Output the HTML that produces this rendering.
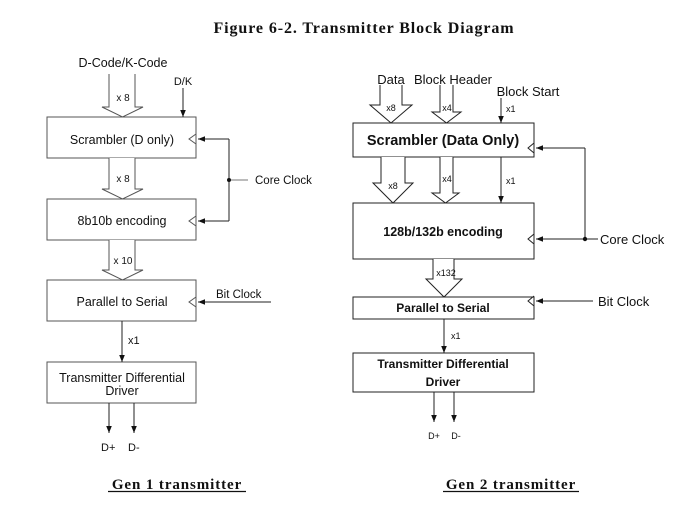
<!DOCTYPE html>
<html><head><meta charset="utf-8"><style>
html,body{margin:0;padding:0;background:#fff;}
svg{display:block;}
.a{font-family:"Liberation Sans",Arial,sans-serif;fill:#111;}
.s{font-family:"Liberation Serif","DejaVu Serif",serif;font-weight:bold;fill:#111;}
.b{font-family:"Liberation Sans",Arial,sans-serif;font-weight:bold;fill:#111;}
</style></head><body>
<svg width="700" height="518" viewBox="0 0 700 518" xmlns="http://www.w3.org/2000/svg">
<defs>
<marker id="ah" viewBox="0 0 10 10" refX="10" refY="5" markerWidth="7" markerHeight="7" orient="auto" markerUnits="userSpaceOnUse"><path d="M0,1 L10,5 L0,9 z" fill="#111"/></marker>
</defs>
<text x="364" y="33" class="s" font-size="16" text-anchor="middle" letter-spacing="0.9">Figure 6-2.  Transmitter Block Diagram</text>

<g stroke="#555" stroke-width="1" fill="#fff">
<path d="M109,74 V107 H102 L122.5,117 L143,107 H135 V74"/>
<rect x="47" y="117" width="149" height="41"/>
<path d="M109,158 V189 H102 L122.5,199 L143,189 H135 V158"/>
<rect x="47" y="199" width="149" height="41"/>
<path d="M109,240 V270 H102 L122.5,280 L143,270 H135 V240"/>
<rect x="47" y="280" width="149" height="41"/>
<rect x="47" y="362" width="149" height="41"/>
<path d="M196,134 L189,139 L196,144" fill="none"/>
<path d="M196,216 L189,221 L196,226" fill="none"/>
<path d="M196,297 L189,302 L196,307" fill="none"/>
</g>
<g stroke="#222" stroke-width="1" fill="none">
<line x1="183" y1="88" x2="183" y2="117" marker-end="url(#ah)"/>
<line x1="229" y1="139" x2="198" y2="139" marker-end="url(#ah)"/>
<line x1="229" y1="221" x2="198" y2="221" marker-end="url(#ah)"/>
<line x1="229" y1="139" x2="229" y2="221"/>
<line x1="229" y1="180" x2="248" y2="180" stroke="#777"/>
<line x1="271" y1="302" x2="198" y2="302" marker-end="url(#ah)"/>
<line x1="122" y1="321" x2="122" y2="362" marker-end="url(#ah)"/>
<line x1="109" y1="403" x2="109" y2="433" marker-end="url(#ah)"/>
<line x1="134" y1="403" x2="134" y2="433" marker-end="url(#ah)"/>
</g>
<circle cx="229" cy="180" r="2" fill="#111"/>
<g class="a" font-size="12.5">
<text x="123" y="67" text-anchor="middle">D-Code/K-Code</text>
<text x="183" y="85" text-anchor="middle" font-size="11">D/K</text>
<text x="123" y="101" text-anchor="middle" font-size="10">x 8</text>
<text x="122" y="144" text-anchor="middle">Scrambler (D only)</text>
<text x="123" y="182" text-anchor="middle" font-size="10">x 8</text>
<text x="255" y="184" font-size="11.5">Core Clock</text>
<text x="122" y="225" text-anchor="middle">8b10b encoding</text>
<text x="123" y="264" text-anchor="middle" font-size="10">x 10</text>
<text x="122" y="306" text-anchor="middle">Parallel to Serial</text>
<text x="216" y="298" font-size="11.5">Bit Clock</text>
<text x="128" y="344" font-size="11">x1</text>
<text x="122" y="382" text-anchor="middle">Transmitter Differential</text>
<text x="122" y="395" text-anchor="middle">Driver</text>
<text x="101" y="451" font-size="11">D+</text>
<text x="128" y="451" font-size="11">D-</text>
</g>

<g stroke="#222" stroke-width="1" fill="#fff">
<path d="M380,85 V105 H370 L391,123 L412,105 H402 V85"/>
<path d="M440,85 V112 H432 L446.5,123 L461,112 H453 V85"/>
<rect x="353" y="123" width="181" height="34"/>
<path d="M381,157 V183 H373 L393,203 L413,183 H405 V157"/>
<path d="M440,157 V193 H432 L445.5,203 L459,193 H453 V157"/>
<rect x="353" y="203" width="181" height="56"/>
<path d="M433,259 V279 H426 L444,297 L462,279 H454 V259"/>
<rect x="353" y="297" width="181" height="22"/>
<rect x="353" y="353" width="181" height="39"/>
<path d="M534,143 L528,148 L534,153" fill="none"/>
<path d="M534,234 L528,239 L534,244" fill="none"/>
<path d="M534,296 L528,301 L534,306" fill="none"/>
</g>
<g stroke="#222" stroke-width="1" fill="none">
<line x1="501" y1="98" x2="501" y2="123" marker-end="url(#ah)"/>
<line x1="501" y1="157" x2="501" y2="203" marker-end="url(#ah)"/>
<line x1="585" y1="148" x2="536" y2="148" marker-end="url(#ah)"/>
<line x1="585" y1="148" x2="585" y2="239"/>
<line x1="598" y1="239" x2="536" y2="239" marker-end="url(#ah)"/>
<line x1="593" y1="301" x2="536" y2="301" marker-end="url(#ah)"/>
<line x1="444" y1="319" x2="444" y2="353" marker-end="url(#ah)"/>
<line x1="434" y1="392" x2="434" y2="422" marker-end="url(#ah)"/>
<line x1="454" y1="392" x2="454" y2="422" marker-end="url(#ah)"/>
</g>
<circle cx="585" cy="239" r="2.2" fill="#111"/>
<g class="a" font-size="13">
<text x="391" y="84" text-anchor="middle">Data</text>
<text x="453" y="84" text-anchor="middle">Block Header</text>
<text x="528" y="96" text-anchor="middle">Block Start</text>
<text x="391" y="111" text-anchor="middle" font-size="9">x8</text>
<text x="447" y="111" text-anchor="middle" font-size="9">x4</text>
<text x="506" y="112" font-size="9">x1</text>
<text x="393" y="189" text-anchor="middle" font-size="9">x8</text>
<text x="447" y="182" text-anchor="middle" font-size="9">x4</text>
<text x="506" y="184" font-size="9">x1</text>
<text x="446" y="276" text-anchor="middle" font-size="9">x132</text>
<text x="451" y="339" font-size="9">x1</text>
<text x="600" y="244">Core Clock</text>
<text x="598" y="306">Bit Clock</text>
<text x="434" y="439" text-anchor="middle" font-size="9">D+</text>
<text x="456" y="439" text-anchor="middle" font-size="9">D-</text>
</g>
<text x="443" y="145" class="b" font-size="14.5" text-anchor="middle">Scrambler (Data Only)</text>
<text x="443" y="236" class="b" font-size="12.5" text-anchor="middle">128b/132b encoding</text>
<text x="443" y="312" class="b" font-size="12" text-anchor="middle">Parallel to Serial</text>
<text x="443" y="368" class="b" font-size="12" text-anchor="middle">Transmitter Differential</text>
<text x="443" y="386" class="b" font-size="12" text-anchor="middle">Driver</text>

<text x="177" y="489" class="s" font-size="15" text-anchor="middle" letter-spacing="0.9">Gen 1 transmitter</text>
<text x="511" y="489" class="s" font-size="15" text-anchor="middle" letter-spacing="0.9">Gen 2 transmitter</text>
<line x1="108" y1="491.5" x2="246" y2="491.5" stroke="#111" stroke-width="1.2"/>
<line x1="443" y1="491.5" x2="579" y2="491.5" stroke="#111" stroke-width="1.2"/>
</svg>
</body></html>
